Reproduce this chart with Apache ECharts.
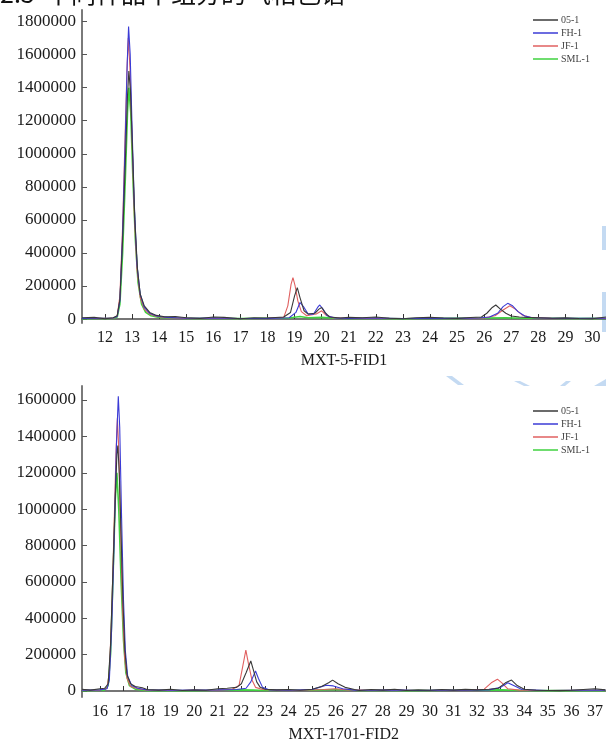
<!DOCTYPE html>
<html>
<head>
<meta charset="utf-8">
<style>
  html, body { margin: 0; padding: 0; background: #fff; }
  #chart { width: 606px; height: 747px; }
</style>
<script src="https://cdn.jsdelivr.net/npm/echarts@6/dist/echarts.min.js"></script>
</head>
<body>
<div id="chart"></div>
<script>
// Sample names (legend order)
const sampleNames = ['05-1', 'FH-1', 'JF-1', 'SML-1'];

// Column titles
const topColumn = 'MXT-5-FID1';
const bottomColumn = 'MXT-1701-FID2';

// Tick labels
const topTimeTicks = [12,13,14,15,16,17,18,19,20,21,22,23,24,25,26,27,28,29,30];
const bottomTimeTicks = [16,17,18,19,20,21,22,23,24,25,26,27,28,29,30,31,32,33,34,35,36,37];
const topSignalTicks = [0,200000,400000,600000,800000,1000000,1200000,1400000,1600000,1800000];
const bottomSignalTicks = [0,200000,400000,600000,800000,1000000,1200000,1400000,1600000];

// MXT-5 column: [retention time (min), response]
const top051 = [[11.15,8000],[11.6,10000],[12.0,2000],[12.3,8000],[12.45,20000],[12.55,120000],[12.65,480000],[12.75,950000],[12.83,1350000],[12.88,1500000],[12.94,1380000],[13.02,1000000],[13.1,600000],[13.2,300000],[13.3,150000],[13.45,80000],[13.65,40000],[13.9,22000],[14.2,14000],[14.6,15000],[15.0,8000],[15.5,3000],[16.0,12000],[16.4,10000],[17.0,2000],[17.5,8000],[18.0,6000],[18.6,12000],[18.85,40000],[19.0,140000],[19.1,190000],[19.2,130000],[19.35,50000],[19.5,30000],[19.75,35000],[19.9,60000],[20.0,70000],[20.12,40000],[20.3,12000],[20.7,6000],[21.0,10000],[21.5,8000],[22.0,12000],[22.5,5000],[23.0,2000],[23.5,8000],[24.0,10000],[24.5,6000],[25.0,4000],[25.5,9000],[25.9,12000],[26.1,35000],[26.3,70000],[26.43,85000],[26.6,60000],[26.8,35000],[27.0,18000],[27.3,12000],[27.6,10000],[28.0,8000],[28.5,5000],[29.0,7000],[29.5,3000],[30.0,2000],[30.5,12000]];
const topFH1 = [[11.15,4000],[11.8,5000],[12.3,6000],[12.45,15000],[12.55,110000],[12.65,520000],[12.75,1100000],[12.82,1550000],[12.87,1770000],[12.93,1600000],[13.0,1150000],[13.08,700000],[13.18,330000],[13.3,150000],[13.45,70000],[13.65,35000],[13.9,18000],[14.3,10000],[15.0,5000],[16.0,6000],[17.0,3000],[18.0,4000],[18.8,8000],[19.05,40000],[19.2,100000],[19.25,110000],[19.35,70000],[19.5,30000],[19.7,30000],[19.85,70000],[19.93,85000],[20.05,60000],[20.2,20000],[20.5,6000],[21.0,4000],[22.0,6000],[23.0,3000],[24.0,5000],[25.0,4000],[25.8,6000],[26.2,12000],[26.5,35000],[26.7,75000],[26.87,95000],[27.05,80000],[27.25,45000],[27.5,18000],[27.8,8000],[28.5,5000],[29.5,4000],[30.5,5000]];
const topJF1 = [[11.15,3000],[11.8,4000],[12.3,5000],[12.45,18000],[12.55,140000],[12.65,560000],[12.74,1100000],[12.81,1500000],[12.86,1700000],[12.92,1520000],[13.0,1080000],[13.08,640000],[13.18,300000],[13.3,130000],[13.45,60000],[13.65,30000],[13.9,15000],[14.3,8000],[15.0,4000],[16.0,5000],[17.0,3000],[18.0,4000],[18.6,10000],[18.75,80000],[18.87,210000],[18.94,250000],[19.02,200000],[19.12,110000],[19.25,45000],[19.45,20000],[19.8,30000],[20.0,50000],[20.15,25000],[20.4,8000],[21.0,4000],[22.0,5000],[23.0,3000],[24.0,4000],[25.0,3000],[26.0,6000],[26.4,20000],[26.7,55000],[26.95,80000],[27.15,60000],[27.4,25000],[27.7,10000],[28.5,4000],[29.5,3000],[30.5,4000]];
const topSML1 = [[11.15,2000],[11.8,3000],[12.3,4000],[12.45,12000],[12.55,90000],[12.65,400000],[12.75,850000],[12.83,1250000],[12.88,1400000],[12.95,1250000],[13.03,850000],[13.12,480000],[13.22,220000],[13.35,90000],[13.5,40000],[13.7,20000],[14.0,10000],[14.5,6000],[15.0,4000],[16.0,5000],[17.0,3000],[18.0,5000],[18.8,6000],[19.2,15000],[19.5,8000],[20.0,10000],[20.5,5000],[21.0,3000],[22.0,4000],[23.0,2000],[24.0,5000],[25.0,4000],[26.0,6000],[26.8,8000],[27.5,5000],[28.0,6000],[29.0,3000],[30.0,4000],[30.5,3000]];

// MXT-1701 column: [retention time (min), response]
const bottom051 = [[15.24,10000],[15.6,5000],[16.0,12000],[16.2,15000],[16.35,40000],[16.45,250000],[16.55,650000],[16.65,1050000],[16.72,1300000],[16.76,1350000],[16.82,1200000],[16.9,850000],[16.98,480000],[17.06,220000],[17.15,90000],[17.3,40000],[17.5,25000],[17.8,18000],[18.0,8000],[18.5,5000],[19.0,10000],[19.5,3000],[20.0,6000],[20.5,4000],[21.0,12000],[21.4,15000],[21.8,20000],[22.0,40000],[22.2,100000],[22.4,165000],[22.5,120000],[22.65,50000],[22.8,20000],[23.0,10000],[23.5,6000],[24.0,8000],[24.5,4000],[25.0,10000],[25.4,25000],[25.7,45000],[25.87,60000],[26.1,40000],[26.4,20000],[26.8,8000],[27.0,3000],[27.5,8000],[28.0,5000],[28.5,10000],[29.0,3000],[29.5,6000],[30.0,4000],[30.5,8000],[31.0,5000],[31.5,9000],[32.0,6000],[32.5,10000],[32.9,15000],[33.2,45000],[33.46,60000],[33.7,30000],[34.0,10000],[34.5,4000],[35.0,3000],[35.5,2000],[36.0,4000],[36.5,8000],[37.0,12000],[37.44,6000]];
const bottomFH1 = [[15.24,5000],[16.0,6000],[16.3,12000],[16.4,60000],[16.5,350000],[16.6,800000],[16.7,1350000],[16.78,1620000],[16.84,1450000],[16.92,950000],[17.0,500000],[17.08,220000],[17.18,80000],[17.35,30000],[17.6,15000],[18.0,6000],[19.0,4000],[20.0,5000],[21.0,6000],[21.8,8000],[22.2,15000],[22.4,50000],[22.6,110000],[22.72,70000],[22.9,20000],[23.2,6000],[24.0,4000],[25.0,8000],[25.3,20000],[25.6,32000],[25.9,28000],[26.3,12000],[26.8,5000],[27.5,4000],[28.5,6000],[29.5,3000],[30.5,5000],[31.5,4000],[32.5,6000],[33.0,20000],[33.3,45000],[33.55,30000],[33.9,8000],[35.0,3000],[36.0,4000],[37.44,5000]];
const bottomJF1 = [[15.24,4000],[16.0,5000],[16.3,15000],[16.4,100000],[16.5,420000],[16.6,900000],[16.68,1300000],[16.74,1500000],[16.8,1330000],[16.88,880000],[16.96,450000],[17.05,180000],[17.15,70000],[17.3,25000],[17.6,12000],[18.0,5000],[19.0,3000],[20.0,4000],[21.0,5000],[21.6,8000],[21.9,30000],[22.05,130000],[22.19,225000],[22.3,150000],[22.45,60000],[22.6,20000],[22.9,8000],[23.5,4000],[24.5,5000],[25.5,8000],[26.0,12000],[26.5,6000],[27.5,4000],[28.5,5000],[29.5,3000],[30.5,4000],[31.5,5000],[32.3,10000],[32.6,45000],[32.86,65000],[33.05,45000],[33.3,12000],[33.8,5000],[35.0,3000],[36.0,4000],[37.44,4000]];
const bottomSML1 = [[15.24,2000],[15.8,3000],[16.2,5000],[16.35,30000],[16.45,200000],[16.55,600000],[16.65,1050000],[16.72,1200000],[16.8,1000000],[16.9,600000],[17.0,280000],[17.1,100000],[17.25,30000],[17.5,10000],[18.0,2000],[19.0,3000],[20.0,1000],[21.0,4000],[22.0,6000],[22.5,5000],[23.0,3000],[24.0,4000],[25.0,5000],[26.0,8000],[27.0,3000],[28.0,4000],[29.0,2000],[30.0,3000],[31.0,4000],[32.0,5000],[33.0,6000],[34.0,3000],[35.0,2000],[36.0,3000],[37.44,2000]];

const colors = { '05-1': '#3a3a3a', 'FH-1': '#3b3bd6', 'JF-1': '#e06060', 'SML-1': '#3fd23f' };
const serif = 'Liberation Serif, Times New Roman, serif';

function makeSeries(name, data, idx) {
  return {
    name: name,
    type: 'line',
    xAxisIndex: idx,
    yAxisIndex: idx,
    data: data,
    showSymbol: false,
    symbol: 'none',
    smooth: false,
    animation: false,
    lineStyle: { color: colors[name], width: name === 'SML-1' ? 1.6 : 1.1 },
    itemStyle: { color: colors[name] }
  };
}

function xAxisOf(idx, min, max, ticks, title) {
  return {
    type: 'value', gridIndex: idx, min: min, max: max,
    name: title, nameLocation: 'middle', nameGap: 30,
    nameTextStyle: { fontFamily: serif, fontSize: 16, color: '#1a1a1a' },
    axisLine: { lineStyle: { color: '#4a4a4a', width: 1.5 } },
    axisTick: { inside: true, length: 5, customValues: ticks, lineStyle: { color: '#333' } },
    axisLabel: { customValues: ticks, formatter: v => String(v), fontFamily: serif, fontSize: 16, color: '#1a1a1a', margin: 7 },
    splitLine: { show: false }
  };
}

function yAxisOf(idx, min, max, ticks) {
  return {
    type: 'value', gridIndex: idx, min: min, max: max,
    axisLine: { show: true, lineStyle: { color: '#7a7a7a', width: 2 } },
    axisTick: { show: true, inside: true, length: 5, customValues: ticks, lineStyle: { color: '#555' } },
    axisLabel: { customValues: ticks, formatter: v => String(v), fontFamily: serif, fontSize: 17, color: '#1a1a1a', margin: 6 },
    splitLine: { show: false }
  };
}

function legendOf(top) {
  return {
    data: sampleNames, orient: 'vertical', left: 528, top: top,
    icon: 'rect', itemWidth: 25, itemHeight: 1.5, itemGap: 3,
    selectedMode: false,
    textStyle: { fontFamily: serif, fontSize: 10, color: '#444', padding: [0, 0, 0, -2] }
  };
}

// Series drawn in reverse legend order so 05-1 sits on top
const drawOrder = ['SML-1', 'JF-1', 'FH-1', '05-1'];
const topData = { '05-1': top051, 'FH-1': topFH1, 'JF-1': topJF1, 'SML-1': topSML1 };
const bottomData = { '05-1': bottom051, 'FH-1': bottomFH1, 'JF-1': bottomJF1, 'SML-1': bottomSML1 };

const series = [];
drawOrder.forEach(n => series.push(makeSeries(n, topData[n], 0)));
drawOrder.forEach(n => series.push(makeSeries(n, bottomData[n], 1)));

const chart = echarts.init(document.getElementById('chart'), null, { renderer: 'canvas' });
chart.setOption({
  backgroundColor: '#ffffff',
  animation: false,
  grid: [
    { left: 82, top: 10, width: 524, height: 313 },
    { left: 82, top: 386, width: 524, height: 311 }
  ],
  xAxis: [
    xAxisOf(0, 11.15, 30.5, topTimeTicks, topColumn),
    xAxisOf(1, 15.24, 37.44, bottomTimeTicks, bottomColumn)
  ],
  yAxis: [
    yAxisOf(0, -24000, 1870000, topSignalTicks),
    yAxisOf(1, -33000, 1677000, bottomSignalTicks)
  ],
  legend: [legendOf(10), legendOf(401)],
  graphic: [
    {
      type: 'text', left: 0, top: -19, silent: true,
      style: { text: '2.3  不同样品中组分的气相色谱', fontSize: 25, fontFamily: 'Noto Sans CJK SC', fill: '#111' }
    },
    // light-blue page decoration strokes
    { type: 'polygon', silent: true, shape: { points: [[602,226],[606,226],[606,250],[602,250]] }, style: { fill: '#c4daf2' } },
    { type: 'polygon', silent: true, shape: { points: [[602,292],[606,292],[606,332],[602,332]] }, style: { fill: '#c4daf2' } },
    { type: 'polygon', silent: true, shape: { points: [[446,376],[452,376],[464,385],[458,385]] }, style: { fill: '#c4daf2' } },
    { type: 'polygon', silent: true, shape: { points: [[514,381],[520,381],[530,386],[524,386]] }, style: { fill: '#c4daf2' } },
    { type: 'polygon', silent: true, shape: { points: [[560,386],[566,381],[571,381],[565,386]] }, style: { fill: '#c4daf2' } },
    { type: 'polygon', silent: true, shape: { points: [[594,386],[606,379],[606,386]] }, style: { fill: '#c4daf2' } }
  ],
  series: series
});
</script>
</body>
</html>
